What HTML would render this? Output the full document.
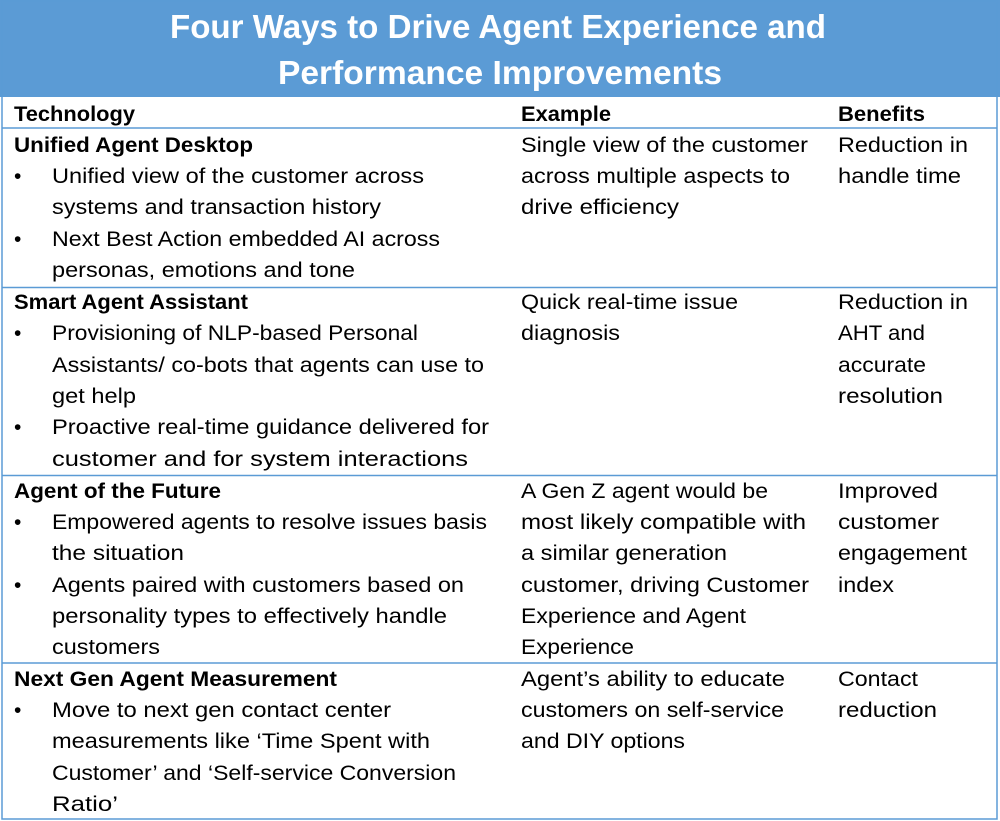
<!DOCTYPE html>
<html><head><meta charset="utf-8"><style>
html,body{margin:0;padding:0;background:#fff;width:1000px;height:821px;overflow:hidden}
svg{display:block}
text{font-family:"Liberation Sans",sans-serif;font-size:21px;fill:#000}
.b{font-weight:bold}
.t{font-weight:bold;font-size:33px;fill:#fff}
</style></head><body>
<svg width="1000" height="821" viewBox="0 0 1000 821" xmlns="http://www.w3.org/2000/svg">
<rect x="0" y="0" width="1000" height="97" fill="#5b9bd5"/>
<text class="t" x="170" y="38" textLength="656" lengthAdjust="spacingAndGlyphs">Four Ways to Drive Agent Experience and</text>
<text class="t" x="278" y="84" textLength="444" lengthAdjust="spacingAndGlyphs">Performance Improvements</text>
<g stroke="#5b9bd5" stroke-width="1.5" fill="none">
<rect x="2" y="1" width="995" height="818"/>
<line x1="2" y1="128" x2="997" y2="128"/>
<line x1="2" y1="287.5" x2="997" y2="287.5"/>
<line x1="2" y1="475.5" x2="997" y2="475.5"/>
<line x1="2" y1="663" x2="997" y2="663"/>
</g>
<g>
<text class="b" x="14" y="121" textLength="121" lengthAdjust="spacingAndGlyphs">Technology</text>
<text class="b" x="521" y="121" textLength="90" lengthAdjust="spacingAndGlyphs">Example</text>
<text class="b" x="838" y="121" textLength="87" lengthAdjust="spacingAndGlyphs">Benefits</text>

<text class="b" x="14" y="152" textLength="239" lengthAdjust="spacingAndGlyphs">Unified Agent Desktop</text>
<text x="14" y="183">•</text>
<text x="52" y="183" textLength="372" lengthAdjust="spacingAndGlyphs">Unified view of the customer across</text>
<text x="52" y="214" textLength="329" lengthAdjust="spacingAndGlyphs">systems and transaction history</text>
<text x="14" y="246">•</text>
<text x="52" y="246" textLength="388" lengthAdjust="spacingAndGlyphs">Next Best Action embedded AI across</text>
<text x="52" y="277" textLength="303" lengthAdjust="spacingAndGlyphs">personas, emotions and tone</text>
<text x="521" y="152" textLength="287" lengthAdjust="spacingAndGlyphs">Single view of the customer</text>
<text x="521" y="183" textLength="269" lengthAdjust="spacingAndGlyphs">across multiple aspects to</text>
<text x="521" y="214" textLength="158" lengthAdjust="spacingAndGlyphs">drive efficiency</text>
<text x="838" y="152" textLength="130" lengthAdjust="spacingAndGlyphs">Reduction in</text>
<text x="838" y="183" textLength="123" lengthAdjust="spacingAndGlyphs">handle time</text>

<text class="b" x="14" y="309" textLength="234" lengthAdjust="spacingAndGlyphs">Smart Agent Assistant</text>
<text x="14" y="340">•</text>
<text x="52" y="340" textLength="366" lengthAdjust="spacingAndGlyphs">Provisioning of NLP-based Personal</text>
<text x="52" y="372" textLength="432" lengthAdjust="spacingAndGlyphs">Assistants/ co-bots that agents can use to</text>
<text x="52" y="403" textLength="84" lengthAdjust="spacingAndGlyphs">get help</text>
<text x="14" y="434">•</text>
<text x="52" y="434" textLength="437" lengthAdjust="spacingAndGlyphs">Proactive real-time guidance delivered for</text>
<text x="52" y="466" textLength="416" lengthAdjust="spacingAndGlyphs">customer and for system interactions</text>
<text x="521" y="309" textLength="217" lengthAdjust="spacingAndGlyphs">Quick real-time issue</text>
<text x="521" y="340" textLength="99" lengthAdjust="spacingAndGlyphs">diagnosis</text>
<text x="838" y="309" textLength="130" lengthAdjust="spacingAndGlyphs">Reduction in</text>
<text x="838" y="340" textLength="87" lengthAdjust="spacingAndGlyphs">AHT and</text>
<text x="838" y="372" textLength="88" lengthAdjust="spacingAndGlyphs">accurate</text>
<text x="838" y="403" textLength="105" lengthAdjust="spacingAndGlyphs">resolution</text>

<text class="b" x="14" y="498" textLength="207" lengthAdjust="spacingAndGlyphs">Agent of the Future</text>
<text x="14" y="529">•</text>
<text x="52" y="529" textLength="435" lengthAdjust="spacingAndGlyphs">Empowered agents to resolve issues basis</text>
<text x="52" y="560" textLength="132" lengthAdjust="spacingAndGlyphs">the situation</text>
<text x="14" y="592">•</text>
<text x="52" y="592" textLength="412" lengthAdjust="spacingAndGlyphs">Agents paired with customers based on</text>
<text x="52" y="623" textLength="395" lengthAdjust="spacingAndGlyphs">personality types to effectively handle</text>
<text x="52" y="654" textLength="108" lengthAdjust="spacingAndGlyphs">customers</text>
<text x="521" y="498" textLength="247" lengthAdjust="spacingAndGlyphs">A Gen Z agent would be</text>
<text x="521" y="529" textLength="285" lengthAdjust="spacingAndGlyphs">most likely compatible with</text>
<text x="521" y="560" textLength="206" lengthAdjust="spacingAndGlyphs">a similar generation</text>
<text x="521" y="592" textLength="288" lengthAdjust="spacingAndGlyphs">customer, driving Customer</text>
<text x="521" y="623" textLength="225" lengthAdjust="spacingAndGlyphs">Experience and Agent</text>
<text x="521" y="654" textLength="113" lengthAdjust="spacingAndGlyphs">Experience</text>
<text x="838" y="498" textLength="100" lengthAdjust="spacingAndGlyphs">Improved</text>
<text x="838" y="529" textLength="101" lengthAdjust="spacingAndGlyphs">customer</text>
<text x="838" y="560" textLength="129" lengthAdjust="spacingAndGlyphs">engagement</text>
<text x="838" y="592" textLength="56" lengthAdjust="spacingAndGlyphs">index</text>

<text class="b" x="14" y="686" textLength="323" lengthAdjust="spacingAndGlyphs">Next Gen Agent Measurement</text>
<text x="14" y="717">•</text>
<text x="52" y="717" textLength="339" lengthAdjust="spacingAndGlyphs">Move to next gen contact center</text>
<text x="52" y="748" textLength="378" lengthAdjust="spacingAndGlyphs">measurements like ‘Time Spent with</text>
<text x="52" y="780" textLength="404" lengthAdjust="spacingAndGlyphs">Customer’ and ‘Self-service Conversion</text>
<text x="52" y="811" textLength="66" lengthAdjust="spacingAndGlyphs">Ratio’</text>
<text x="521" y="686" textLength="264" lengthAdjust="spacingAndGlyphs">Agent’s ability to educate</text>
<text x="521" y="717" textLength="263" lengthAdjust="spacingAndGlyphs">customers on self-service</text>
<text x="521" y="748" textLength="164" lengthAdjust="spacingAndGlyphs">and DIY options</text>
<text x="838" y="686" textLength="80" lengthAdjust="spacingAndGlyphs">Contact</text>
<text x="838" y="717" textLength="99" lengthAdjust="spacingAndGlyphs">reduction</text>
</g>
</svg>
</body></html>
